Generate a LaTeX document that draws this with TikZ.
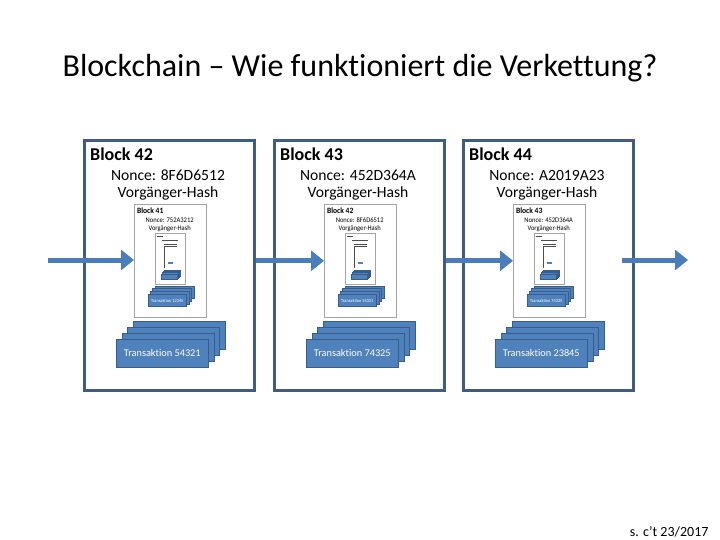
\documentclass[tikz,border=0pt]{standalone}
\usepackage{fontspec}
\setmainfont{Carlito}[Ligatures=NoCommon]
\usetikzlibrary{positioning, arrows.meta}

\definecolor{rahmenblau}{RGB}{64,92,128}
\definecolor{pfeilblau}{RGB}{74,126,187}
\definecolor{txblau}{RGB}{79,129,189}
\definecolor{txrand}{RGB}{56,93,138}
\definecolor{vorschaugrau}{RGB}{165,165,165}

\tikzset{
  blockrahmen/.style={draw=rahmenblau, line width=3pt, anchor=north west, minimum width=170, minimum height=250, inner sep=0},
  blocktitel/.style={anchor=west, inner sep=0, font=\fontsize{18}{20}\selectfont\bfseries},
  blocktext/.style={inner sep=0, font=\fontsize{15.6}{18}\selectfont},
  vorschau/.style={draw=vorschaugrau, line width=0.6pt, fill=white, anchor=north west, minimum width=72, minimum height=113, inner sep=0},
  txkarte/.style={draw=txrand, line width=0.6pt, fill=txblau, anchor=north west, minimum width=92, minimum height=28, inner sep=0, text=white, font=\fontsize{10.3}{12}\selectfont},
  pfeil/.style={draw=pfeilblau, line width=5pt, -{Triangle[length=13pt,width=20pt]}},
  strich/.style={line width=0.5pt, draw=black!70}
}

% Inhalt eines Blocks, Ursprung oben links, 171 x 250
\newcommand{\blockinhalt}[4]{%
  \node[blocktitel] (titel#1) at (7,15) {Block #1};
  \node[blocktext] (nonce#1) at (85,36) {Nonce: #2};
  \node[blocktext] (hash#1) at (85,54) {Vorgänger-Hash};
  \node[vorschau] (thumb#1) at (51,65) {};
  \begin{scope}[shift={(51,65)}, xscale=0.42, yscale=0.45, transform shape, name prefix=v-]
    #4
  \end{scope}
  \foreach \i in {3,2,1}
    \node[txkarte] (tx#1-\i) at (33+5.7*\i, 200-6*\i) {};
  \node[txkarte] (tx#1-0) at (33,200) {Transaktion #3};
}

% unlesbar kleiner Block (zweite Ebene)
\newcommand{\miniinhalt}{%
  \draw[strich, line width=1pt] (7,15) -- (45,15);
  \draw[strich] (40,36) -- (130,36);
  \draw[strich] (48,54) -- (122,54);
  \draw[strich] (51,65) -- (124,65);
  \draw[strich] (51,65) -- (51,170);
  \fill[txblau] (70,140) rectangle (100,152);
  \foreach \i in {3,2,1,0}
    \filldraw[fill=txblau, draw=txrand, line width=0.3pt] (33+5.7*\i, 200-6*\i) rectangle ++(92,28);
}

\begin{document}
\begin{tikzpicture}[x=1pt, y=-1pt]
\useasboundingbox (0,0) rectangle (720,540);

\node[font=\fontsize{32}{36}\selectfont] (ueberschrift) at (360,68) {Blockchain – Wie funktioniert die Verkettung?};

\node[blockrahmen] (b42) at (83,139) {};
\node[blockrahmen] (b43) at (273,139) {};
\node[blockrahmen] (b44) at (462,139) {};

\begin{scope}[shift={(83,139)}]
  \blockinhalt{42}{8F6D6512}{54321}{\blockinhalt{41}{752A3212}{12345}{\miniinhalt}}
\end{scope}
\begin{scope}[shift={(273,139)}]
  \blockinhalt{43}{452D364A}{74325}{\blockinhalt{42}{8F6D6512}{54321}{\miniinhalt}}
\end{scope}
\begin{scope}[shift={(462,139)}]
  \blockinhalt{44}{A2019A23}{23845}{\blockinhalt{43}{452D364A}{74325}{\miniinhalt}}
\end{scope}

\coordinate (start) at (48,260);
\coordinate (ende) at (688,260);
\draw[pfeil] (start) -- (start -| thumb42.west);
\draw[pfeil] (b42.east |- thumb43.west) -- (thumb43.west);
\draw[pfeil] (b43.east |- thumb44.west) -- (thumb44.west);
\draw[pfeil] ([xshift=-13pt]b44.east |- ende) -- (ende);

\node[anchor=east, font=\fontsize{14}{16}\selectfont] (quelle) at (712,532) {s. c't 23/2017};
\end{tikzpicture}
\end{document}
